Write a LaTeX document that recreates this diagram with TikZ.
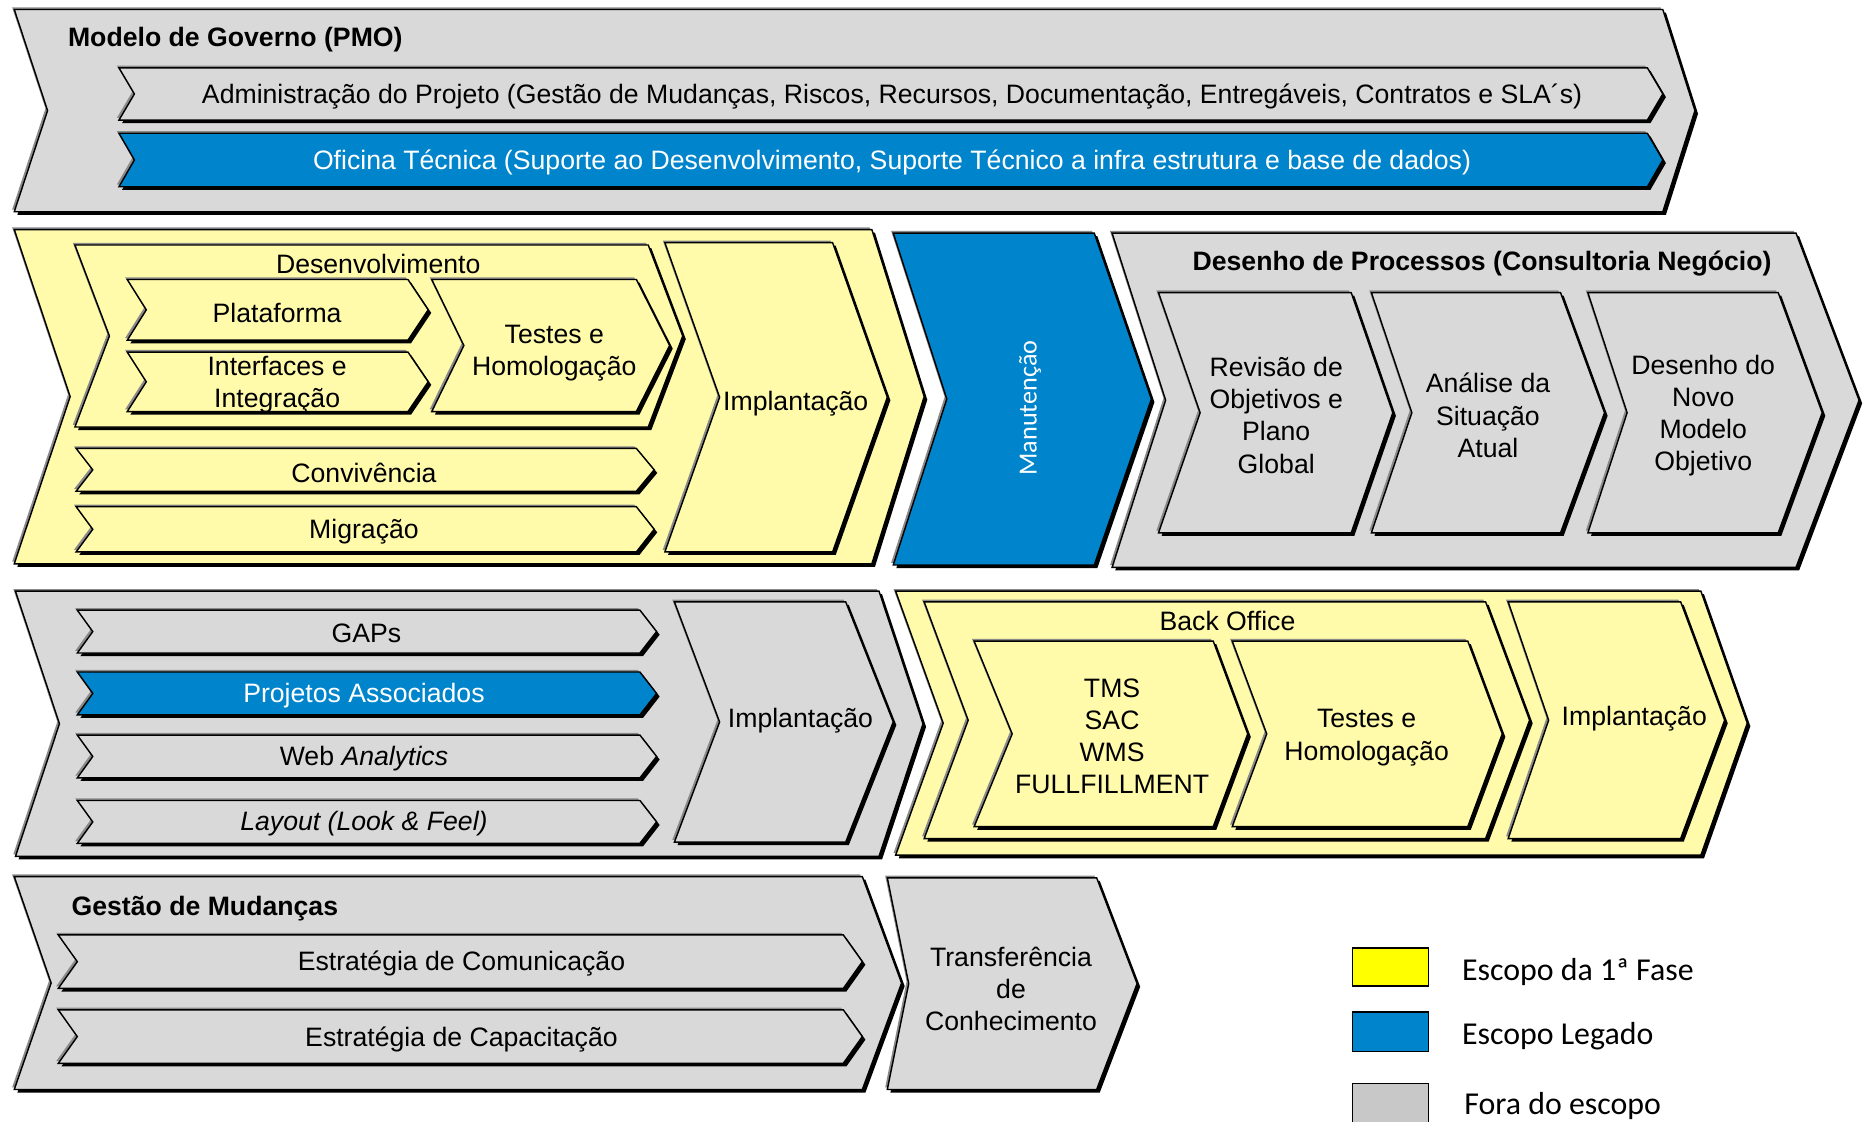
\documentclass[tikz,border=0pt]{standalone}
\usepackage{fontspec}
\setmainfont{Liberation Sans}
\newfontfamily\calfont{Carlito}
\definecolor{cgray}{HTML}{D9D9D9}
\definecolor{cyel}{HTML}{FFFBAA}
\definecolor{cblue}{HTML}{0084CB}
\definecolor{shgray}{HTML}{8A8A8A}
\definecolor{lyel}{HTML}{FFFF00}
\definecolor{lblue}{HTML}{0084CC}
\definecolor{lgray}{HTML}{C8C8C8}
\newcommand\mychev[8]{%
  \pgfmathsetmacro\cym{(#3+#5)/2}%
  \begin{scope}[shift={(-1.8,-1.8)}]
    \fill[shgray] (#2,#3) -- (#4,#3) -- ({#4+#7},\cym) -- (#4,#5) -- (#2,#5) -- ({#2+#6},\cym) -- cycle;
  \end{scope}
  \begin{scope}[shift={(2.6,2.6)}]
    \fill[black] (#2,#3) -- (#4,#3) -- ({#4+#7},\cym) -- (#4,#5) -- (#2,#5) -- ({#2+#6},\cym) -- cycle;
  \end{scope}
  \filldraw[fill=#8,draw=black,line width=1.2,line join=miter] (#2,#3) -- (#4,#3) -- ({#4+#7},\cym) -- (#4,#5) -- (#2,#5) -- ({#2+#6},\cym) -- cycle;
  \coordinate (#1) at ({(#2+#4)/2},\cym);
}
\begin{document}
\begin{tikzpicture}[x=1pt,y=-1pt,
  txt/.style={font=\fontsize{22.4}{27}\selectfont, align=center, inner sep=0pt, yshift=-1.2pt},
  ttl/.style={font=\fontsize{22.4}{27}\selectfont\bfseries, inner sep=0pt, yshift=-1.5pt},
  wtxt/.style={txt, text=white},
  lgd/.style={font=\calfont\fontsize{26.8}{30}\selectfont, anchor=west, inner sep=0pt},
  lbox/.style={draw=black, line width=1.3}]
\useasboundingbox (0,0) rectangle (1568,943);
% Row 1
\mychev{pmo}{12}{8}{1398}{178}{28}{27}{cgray}
\mychev{adm}{100}{57}{1385}{101}{13}{13}{cgray}
\mychev{ofi}{100}{112}{1385}{157}{13}{13}{cblue}
\node[ttl, anchor=west] (tpmo) at (57,32) {Modelo de Governo (PMO)};
\node[txt] (tadm) at (750,80) {Administração do Projeto (Gestão de Mudanças, Riscos, Recursos, Documentação, Entregáveis, Contratos e SLA´s)};
\node[wtxt] (tofi) at (750,135) {Oficina Técnica (Suporte ao Desenvolvimento, Suporte Técnico a infra estrutura e base de dados)};
% Row 2
\mychev{ya}{12}{193}{733}{474}{47}{44}{cyel}
\mychev{dev}{63}{206}{545}{359}{29}{29}{cyel}
\mychev{pla}{107}{235}{343}{286}{16}{17}{cyel}
\mychev{int}{107}{296}{343}{346}{16}{17}{cyel}
\mychev{tes}{363}{235}{535}{346}{27}{28}{cyel}
\mychev{con}{64}{377}{535}{413}{14}{15}{cyel}
\mychev{mig}{64}{426}{535}{464}{14}{15}{cyel}
\mychev{imp}{559}{204}{700}{464}{46}{46}{cyel}
\mychev{man}{751}{196}{920}{475}{45}{48}{cblue}
\mychev{dp}{935}{196}{1510}{477}{45}{53}{cgray}
\mychev{rev}{974}{246}{1136}{448}{35}{35}{cgray}
\mychev{ana}{1153}{246}{1312}{448}{34}{37}{cgray}
\mychev{dno}{1335}{246}{1495}{448}{33}{37}{cgray}
\node[txt] (tdev) at (318,221) {Desenvolvimento};
\node[txt] (tpla) at (233,262) {Plataforma};
\node[txt] (tint) at (233,322) {Interfaces e\\Integração};
\node[txt] (ttes) at (466,296) {Testes e\\Homologação};
\node[txt] (tcon) at (306,396) {Convivência};
\node[txt] (tmig) at (306,446) {Migração};
\node[txt] (timp) at (669,338) {Implantação};
\node[font=\calfont\fontsize{22}{26}\selectfont, text=white, rotate=90, inner sep=0pt] (tman) at (866,343) {Manutenção};
\node[ttl] (tdp) at (1246,220) {Desenho de Processos (Consultoria Negócio)};
\node[txt] (trev) at (1073,348) {Revisão de\\Objetivos e\\Plano\\Global};
\node[txt] (tana) at (1251,348) {Análise da\\Situação\\Atual};
\node[txt] (tdno) at (1432,348) {Desenho do\\Novo\\Modelo\\Objetivo};
% Row 3
\mychev{gb}{13}{497}{739}{720}{37}{37}{cgray}
\mychev{gap}{65}{513}{538}{549}{13}{14}{cgray}
\mychev{pro}{65}{565}{538}{601}{13}{14}{cblue}
\mychev{web}{65}{618}{538}{654}{13}{14}{cgray}
\mychev{lay}{65}{673}{538}{709}{13}{14}{cgray}
\mychev{impb}{567}{506}{711}{708}{38}{40}{cgray}
\mychev{yc}{753}{497}{1430}{719}{40}{39}{cyel}
\mychev{bo}{777}{506}{1249}{705}{37}{37}{cyel}
\mychev{tms}{819}{539}{1020}{695}{32}{29}{cyel}
\mychev{tbo}{1036}{539}{1234}{695}{29}{29}{cyel}
\mychev{ibo}{1268}{506}{1413}{705}{34}{37}{cyel}
\node[txt] (tgap) at (308,531) {GAPs};
\node[wtxt] (tpro) at (306,584) {Projetos Associados};
\node[txt] (tweb) at (306,637) {Web \textit{Analytics}};
\node[txt] (tlay) at (306,691) {\textit{Layout (Look \& Feel)}};
\node[txt] (timpb) at (673,605) {Implantação};
\node[txt] (tbo) at (1032,521) {Back Office};
\node[txt] (ttms) at (935,618) {TMS\\SAC\\WMS\\FULLFILLMENT};
\node[txt] (ttbo) at (1149,619) {Testes e\\Homologação};
\node[txt] (tibo) at (1374,603) {Implantação};
% Row 4
\mychev{gd}{12}{737}{725}{916}{31}{33}{cgray}
\mychev{ecm}{49}{786}{709}{831}{16}{16}{cgray}
\mychev{ecp}{49}{849}{709}{894}{16}{16}{cgray}
\mychev{tra}{746}{738}{922}{916}{18}{34}{cgray}
\node[ttl, anchor=west] (tgd) at (60,762) {Gestão de Mudanças};
\node[txt] (tecm) at (388,809) {Estratégia de Comunicação};
\node[txt] (tecp) at (388,873) {Estratégia de Capacitação};
\node[txt] (ttra) at (850,830) {Transferência\\de\\Conhecimento};
% Legend
\filldraw[lbox, fill=lyel] (1137,797) rectangle (1201,829);
\filldraw[lbox, fill=lblue] (1137,851) rectangle (1201,884);
\filldraw[lbox, fill=lgray] (1137,911) rectangle (1201,944);
\node[lgd] (l1) at (1229,817) {Escopo da 1ª Fase};
\node[lgd] (l2) at (1229,871) {Escopo Legado};
\node[lgd] (l3) at (1231,930) {Fora do escopo};
\end{tikzpicture}
\end{document}
